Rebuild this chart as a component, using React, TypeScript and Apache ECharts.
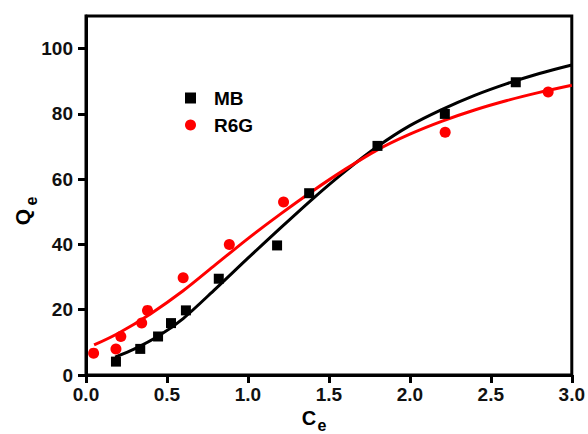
import React, { useEffect, useRef } from "react";
import * as echarts from "echarts";

const mbCe = [0.185, 0.335, 0.445, 0.525, 0.617, 0.82, 1.18, 1.378, 1.8, 2.216, 2.654];
const mbQe = [4.1, 8.0, 11.8, 15.9, 19.8, 29.5, 39.7, 55.7, 70.2, 80.0, 89.7];
const r6gCe = [0.047, 0.185, 0.215, 0.344, 0.38, 0.6, 0.885, 1.22, 2.218, 2.854];
const r6gQe = [6.7, 8.0, 11.8, 15.9, 19.8, 29.8, 40.0, 53.0, 74.4, 86.7];

const mbFitCe = [0.18, 0.3, 0.45, 0.6, 0.8, 1.0, 1.2, 1.4, 1.6, 1.8, 2.0, 2.2, 2.4, 2.6, 2.8, 3.0];
const mbFitQe = [5.5, 8.0, 12.0, 17.3, 26.4, 35.8, 45.0, 54.0, 62.4, 70.0, 76.4, 81.4, 85.7, 89.3, 92.4, 95.0];
const r6gFitCe = [0.05, 0.2, 0.4, 0.6, 0.8, 1.0, 1.2, 1.4, 1.6, 1.8, 2.0, 2.2, 2.4, 2.6, 2.8, 3.0];
const r6gFitQe = [9.2, 12.8, 18.8, 25.8, 33.8, 41.8, 49.3, 56.4, 63.0, 69.0, 73.8, 77.8, 81.2, 84.1, 86.6, 88.8];

const yTicks = [0, 20, 40, 60, 80, 100];

const zip = (xs: number[], ys: number[]) => xs.map((x, i) => [x, ys[i]]);

const FONT = '"Liberation Sans", Arial, sans-serif';

const textStyle = (text: string, size: number) => ({
  text,
  font: `bold ${size}px ${FONT}`,
  fill: "#000",
  textAlign: "center",
  textVerticalAlign: "middle",
  align: "center",
  verticalAlign: "middle",
});

export default function App() {
  const ref = useRef<HTMLDivElement>(null);
  useEffect(() => {
    if (!ref.current) return;
    const chart = echarts.init(ref.current, undefined, { renderer: "svg" });
    chart.setOption({
      animation: false,
      backgroundColor: "#fff",
      grid: {
        left: 86,
        right: 16,
        top: 16,
        bottom: 59,
        show: true,
        borderColor: "#000",
        borderWidth: 3,
        backgroundColor: "transparent",
      },
      legend: {
        orient: "vertical",
        left: 180,
        top: 83,
        itemWidth: 11,
        itemHeight: 11,
        itemGap: 7,
        data: [
          { name: "MB", icon: "rect" },
          { name: "R6G", icon: "circle" },
        ],
        textStyle: {
          fontFamily: FONT,
          fontWeight: "bold",
          fontSize: 19,
          color: "#000",
          lineHeight: 20,
          padding: [0, 0, 0, 13],
        },
      },
      xAxis: {
        type: "value",
        min: 0,
        max: 3,
        interval: 0.5,
        splitLine: { show: false },
        axisLine: { show: true, onZero: false, lineStyle: { color: "#000", width: 3 } },
        axisTick: { show: true, inside: false, length: 8, lineStyle: { color: "#000", width: 3 } },
        axisLabel: {
          margin: 10,
          fontFamily: FONT,
          fontWeight: "bold",
          fontSize: 19,
          color: "#111",
          formatter: (v: number) => v.toFixed(1),
        },
      },
      yAxis: {
        type: "value",
        min: 0,
        max: 110,
        interval: 20,
        splitLine: { show: false },
        axisLine: { show: true, onZero: false, lineStyle: { color: "#000", width: 3 } },
        axisTick: { show: true, inside: false, length: 8, lineStyle: { color: "#000", width: 3 }, customValues: yTicks },
        axisLabel: {
          margin: 13,
          fontFamily: FONT,
          fontWeight: "bold",
          fontSize: 19,
          color: "#111",
          customValues: yTicks,
        },
      },
      graphic: [
        { type: "text", x: 22, y: 217, rotation: Math.PI / 2, style: textStyle("Q", 21) },
        { type: "text", x: 31, y: 201, rotation: Math.PI / 2, style: textStyle("e", 16) },
        { type: "text", x: 309, y: 418, style: textStyle("C", 20) },
        { type: "text", x: 322, y: 425, style: textStyle("e", 16) },
      ],
      series: [
        {
          name: "MB fit",
          type: "line",
          data: zip(mbFitCe, mbFitQe),
          smooth: 0.3,
          showSymbol: false,
          lineStyle: { color: "#000", width: 3 },
          itemStyle: { color: "#000" },
          z: 2,
        },
        {
          name: "R6G fit",
          type: "line",
          data: zip(r6gFitCe, r6gFitQe),
          smooth: 0.3,
          showSymbol: false,
          lineStyle: { color: "#ff0000", width: 3 },
          itemStyle: { color: "#ff0000" },
          z: 3,
        },
        {
          name: "MB",
          type: "scatter",
          symbol: "rect",
          symbolSize: 10,
          data: zip(mbCe, mbQe),
          itemStyle: { color: "#000", opacity: 1 },
          z: 4,
        },
        {
          name: "R6G",
          type: "scatter",
          symbol: "circle",
          symbolSize: 11,
          data: zip(r6gCe, r6gQe),
          itemStyle: { color: "#ff0000", opacity: 1 },
          z: 5,
        },
      ],
    });
    return () => chart.dispose();
  }, []);
  return (
    <div
      ref={ref}
      style={{ position: "fixed", left: 0, top: 0, width: 588, height: 434, background: "#fff" }}
    />
  );
}
